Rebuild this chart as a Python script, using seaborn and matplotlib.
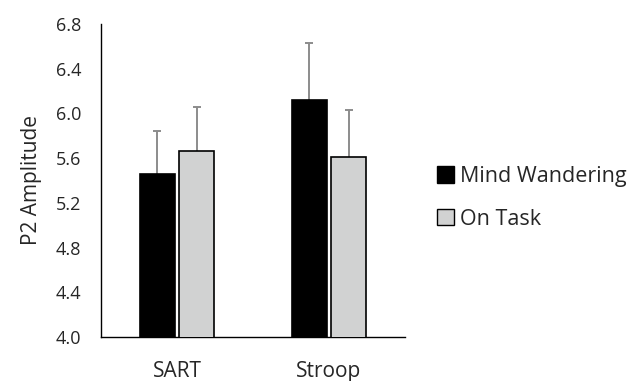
import matplotlib
matplotlib.use("Agg")
import matplotlib.pyplot as plt
import seaborn as sns
import pandas as pd
from matplotlib.patches import Patch

tasks = ["SART", "Stroop"]
conditions = ["Mind Wandering", "On Task"]
mind_wandering = [5.46, 6.12]
on_task = [5.66, 5.61]
mw_err = [0.38, 0.51]
ot_err = [0.40, 0.42]
yticks = [4.0, 4.4, 4.8, 5.2, 5.6, 6.0, 6.4, 6.8]

df = pd.DataFrame({
    "Task": tasks * 2,
    "Condition": [conditions[0]] * 2 + [conditions[1]] * 2,
    "Amplitude": mind_wandering + on_task,
    "Err": mw_err + ot_err,
})

sns.set_style("white")
plt.rcParams["font.family"] = ["Open Sans", "DejaVu Sans"]

fig = plt.figure(figsize=(6.44, 3.81), dpi=100)
ax = fig.add_axes([101 / 644, 1 - 337 / 381, (405 - 101) / 644, (337 - 24) / 381])

palette = {"Mind Wandering": "#000000", "On Task": "#d1d2d2"}
sns.barplot(data=df, x="Task", y="Amplitude", hue="Condition", order=tasks,
            hue_order=conditions, palette=palette, width=0.52, gap=0.11,
            errorbar=None, edgecolor="#000000", linewidth=1.2, legend=False,
            zorder=3, ax=ax)

# upper-only error bars: stem from bar top plus a single cap
err_color = "#8c8c8c"
for cond_idx, cond in enumerate(conditions):
    container = ax.containers[cond_idx]
    sub = df[df["Condition"] == cond].set_index("Task").loc[tasks]
    for patch, val, err in zip(container.patches, sub["Amplitude"], sub["Err"]):
        xc = patch.get_x() + patch.get_width() / 2
        ax.vlines(xc, val, val + err, color=err_color, linewidth=1.4, zorder=2)
        ax.plot([xc], [val + err], marker="_", markersize=6, markeredgewidth=1.4,
                color=err_color, zorder=2)

ax.set_ylim(4.0, 6.8)
ax.set_xlim(-0.5, 1.5)
ax.set_yticks(yticks)
ax.set_yticklabels([f"{t:.1f}" for t in yticks], fontsize=13)
ax.tick_params(axis="y", direction="out", length=4.3, width=1, color="#000000", pad=10)
ax.tick_params(axis="x", length=0, labelsize=15, pad=17)
ax.set_xlabel("")
ax.set_ylabel("P2 Amplitude", fontsize=15, labelpad=10)

for side in ["top", "right"]:
    ax.spines[side].set_visible(False)
for side in ["left", "bottom"]:
    ax.spines[side].set_color("#000000")
    ax.spines[side].set_linewidth(1)

handles = [Patch(facecolor=palette[c], edgecolor="#000000", linewidth=1) for c in conditions]
fig.legend(handles, conditions, loc="upper left", bbox_to_anchor=(437 / 644, 1 - 166 / 381),
           frameon=False, fontsize=15.5, handlelength=0.8, handleheight=0.8,
           handletextpad=0.25, labelspacing=1.0, borderaxespad=0, borderpad=0)

fig.savefig("out.png", dpi=100)
